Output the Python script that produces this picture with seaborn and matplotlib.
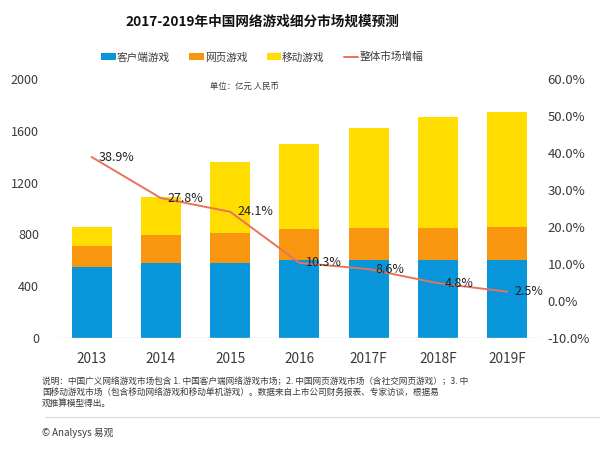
import matplotlib
matplotlib.use("Agg")
import matplotlib.pyplot as plt
import seaborn as sns
import pandas as pd
import numpy as np
from matplotlib.patches import Patch
from matplotlib.lines import Line2D

# ---------------- data ----------------
years = ["2013", "2014", "2015", "2016", "2017F", "2018F", "2019F"]
client = [548, 579, 579, 600, 605, 600, 605]     # 客户端游戏
web = [162, 219, 235, 245, 245, 250, 252]        # 网页游戏
mobile = [143, 291, 542, 652, 773, 858, 890]     # 移动游戏
growth = [38.9, 27.8, 24.1, 10.3, 8.6, 4.8, 2.5]  # 整体市场增幅 (%)
growth_labels = ["38.9%", "27.8%", "24.1%", "10.3%", "8.6%", "4.8%", "2.5%"]
left_ticks = [0, 400, 800, 1200, 1600, 2000]
right_ticks = [-10, 0, 10, 20, 30, 40, 50, 60]
series_names = ["客户端游戏", "网页游戏", "移动游戏", "整体市场增幅"]

title = "2017-2019年中国网络游戏细分市场规模预测"
unit_text = "单位：亿元 人民币"
note_text = ("说明：中国广义网络游戏市场包含 1. 中国客户端网络游戏市场；2. 中国网页游戏市场（含社交网页游戏）；3. 中\n"
             "国移动游戏市场（包含移动网络游戏和移动单机游戏）。数据来自上市公司财务报表、专家访谈，根据易\n"
             "观推算模型得出。")
footer_text = "© Analysys 易观"

# ---------------- style ----------------
C_BLUE = "#0895da"
C_ORANGE = "#f8960f"
C_YELLOW = "#ffdd00"
C_LINE = "#e8735d"
C_TEXT = "#3a3a3a"

sns.set_theme(style="white")
plt.rcParams['font.family'] = ['Noto Sans CJK SC', 'DejaVu Sans']

df = pd.DataFrame({
    "year": years,
    "client": client,
    "web": web,
    "mobile": mobile,
    "growth": growth,
})
df["lvl2"] = df["client"] + df["web"]
df["total"] = df["lvl2"] + df["mobile"]

fig = plt.figure(figsize=(6, 4.5), dpi=100)
ax = fig.add_axes([0.095, 0.249, 0.808, 0.5756])

bw = 0.58
sns.barplot(data=df, x="year", y="total", color=C_YELLOW, width=bw, ax=ax,
            saturation=1, linewidth=0, order=years)
sns.barplot(data=df, x="year", y="lvl2", color=C_ORANGE, width=bw, ax=ax,
            saturation=1, linewidth=0, order=years)
sns.barplot(data=df, x="year", y="client", color=C_BLUE, width=bw, ax=ax,
            saturation=1, linewidth=0, order=years)

ax.set_ylim(0, 2000)
ax.set_xlim(-0.5, len(years) - 0.5)
ax.set_yticks(left_ticks)
ax.set_yticklabels([str(t) for t in left_ticks])
ax.set_xlabel("")
ax.set_ylabel("")
for s in ax.spines.values():
    s.set_visible(False)
ax.axhline(0, color="#ecd3d3", lw=1.0, zorder=5)
ax.tick_params(axis="y", length=0, pad=13, labelsize=9, labelcolor=C_TEXT)
ax.tick_params(axis="x", length=0, pad=10, labelsize=9.8, labelcolor=C_TEXT)

ax2 = ax.twinx()
sns.lineplot(data=df, x="year", y="growth", color=C_LINE, lw=1.4, ax=ax2,
             sort=False)
ax2.set_ylim(-10, 60)
ax2.set_yticks(right_ticks)
ax2.set_yticklabels([f"{t:.1f}%" for t in right_ticks])
ax2.set_ylabel("")
ax2.set_xlabel("")
for s in ax2.spines.values():
    s.set_visible(False)
ax2.tick_params(axis="y", length=0, pad=4, labelsize=9.5, labelcolor=C_TEXT)
ax2.grid(False)
ax.grid(False)

for i, (g, lab) in enumerate(zip(growth, growth_labels)):
    ax2.annotate(lab, xy=(i, g), xytext=(5, 0), textcoords="offset points",
                 ha="left", va="center", fontsize=9, color="#222222")

# title
fig.text(0.437, 0.951, title, ha="center", va="center", fontsize=9.8,
         fontweight="bold", color="#111111")

# legend
handles = [Patch(facecolor=C_BLUE, edgecolor="none"),
           Patch(facecolor=C_ORANGE, edgecolor="none"),
           Patch(facecolor=C_YELLOW, edgecolor="none"),
           Line2D([0], [0], color=C_LINE, lw=1.4)]
fig.legend(handles, series_names, loc="center", bbox_to_anchor=(0.437, 0.873),
           ncol=4, frameon=False, fontsize=7.7, handlelength=1.35,
           handleheight=0.6, handletextpad=0.1, columnspacing=1.8,
           labelcolor=C_TEXT)

fig.text(0.408, 0.807, unit_text, ha="center", va="center", fontsize=6,
         color=C_TEXT)

# notes
fig.text(0.07, 1 - 377 / 450, note_text, ha="left", va="top", fontsize=6.25,
         color=C_TEXT, linespacing=1.25)
fig.add_artist(Line2D([0.075, 1.0], [1 - 417 / 450, 1 - 417 / 450],
                      transform=fig.transFigure, color="#d9d9d9", lw=0.8))
fig.text(0.07, 1 - 433 / 450, footer_text, ha="left", va="center",
         fontsize=7, color=C_TEXT)

fig.savefig("out.png", dpi=100)
